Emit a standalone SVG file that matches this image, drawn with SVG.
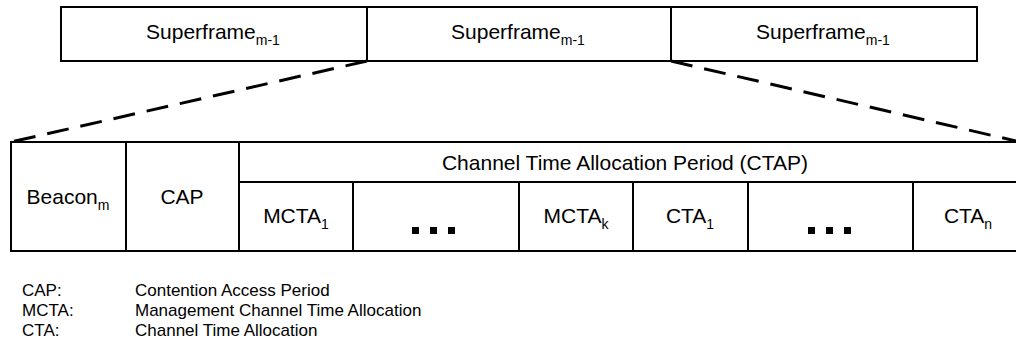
<svg xmlns="http://www.w3.org/2000/svg" width="1016" height="357" viewBox="0 0 1016 357">
  <style>
    .box { fill: #ffffff; stroke: #000000; stroke-width: 2; }
    .ln { stroke: #000000; stroke-width: 2; fill: none; }
    .dash { stroke: #000000; stroke-width: 3; fill: none; stroke-dasharray: 22 12; }
    .t { font-family: "Liberation Sans", Arial, sans-serif; font-size: 21px; fill: #000000; text-anchor: middle; }
    .sub { font-size: 14px; }
    .leg { font-family: "Liberation Sans", Arial, sans-serif; font-size: 17px; fill: #000000; }
    .dot { fill: #000000; }
  </style>

  <!-- superframe sequence -->
  <g id="superframe-1">
    <rect class="box" x="61" y="7" width="306" height="54"/>
    <text class="t" x="213" y="39">Superframe<tspan class="sub" dy="6">m-1</tspan></text>
  </g>
  <g id="superframe-2">
    <rect class="box" x="367" y="7" width="304" height="54"/>
    <text class="t" x="518" y="39">Superframe<tspan class="sub" dy="6">m-1</tspan></text>
  </g>
  <g id="superframe-3">
    <rect class="box" x="671" y="7" width="306" height="54"/>
    <text class="t" x="823" y="39">Superframe<tspan class="sub" dy="6">m-1</tspan></text>
  </g>

  <!-- expansion of the middle superframe -->
  <g id="connectors">
    <line class="dash" x1="367" y1="61" x2="11" y2="142"/>
    <line class="dash" x1="671" y1="61" x2="1016" y2="141"/>
  </g>

  <!-- superframe structure -->
  <g id="frame">
    <path class="ln" d="M1016 142 H11 V251 H1016"/>
  </g>
  <g id="beacon">
    <line class="ln" x1="126" y1="142" x2="126" y2="251"/>
    <text class="t" x="68" y="204">Beacon<tspan class="sub" dy="6">m</tspan></text>
  </g>
  <g id="cap">
    <line class="ln" x1="239" y1="142" x2="239" y2="251"/>
    <text class="t" x="182" y="204">CAP</text>
  </g>
  <g id="ctap">
    <line class="ln" x1="239" y1="182" x2="1016" y2="182"/>
    <text class="t" x="625" y="170">Channel Time Allocation Period (CTAP)</text>
  </g>
  <g id="mcta-1">
    <line class="ln" x1="353" y1="182" x2="353" y2="251"/>
    <text class="t" x="296" y="223">MCTA<tspan class="sub" dy="6">1</tspan></text>
  </g>
  <g id="mcta-gap">
    <line class="ln" x1="519" y1="182" x2="519" y2="251"/>
    <rect class="dot" x="412" y="227" width="7" height="7"/>
    <rect class="dot" x="430" y="227" width="7" height="7"/>
    <rect class="dot" x="448" y="227" width="7" height="7"/>
  </g>
  <g id="mcta-k">
    <line class="ln" x1="633" y1="182" x2="633" y2="251"/>
    <text class="t" x="576" y="223">MCTA<tspan class="sub" dy="6">k</tspan></text>
  </g>
  <g id="cta-1">
    <line class="ln" x1="748" y1="182" x2="748" y2="251"/>
    <text class="t" x="690" y="223">CTA<tspan class="sub" dy="6">1</tspan></text>
  </g>
  <g id="cta-gap">
    <line class="ln" x1="913" y1="182" x2="913" y2="251"/>
    <rect class="dot" x="808" y="227" width="7" height="7"/>
    <rect class="dot" x="826" y="227" width="7" height="7"/>
    <rect class="dot" x="844" y="227" width="7" height="7"/>
  </g>
  <g id="cta-n">
    <text class="t" x="968" y="223">CTA<tspan class="sub" dy="6">n</tspan></text>
  </g>

  <!-- abbreviations -->
  <g id="legend">
    <text class="leg" x="22" y="296">CAP:</text>
    <text class="leg" x="135" y="296">Contention Access Period</text>
    <text class="leg" x="22" y="316">MCTA:</text>
    <text class="leg" x="135" y="316">Management Channel Time Allocation</text>
    <text class="leg" x="22" y="336">CTA:</text>
    <text class="leg" x="135" y="336">Channel Time Allocation</text>
  </g>
</svg>
